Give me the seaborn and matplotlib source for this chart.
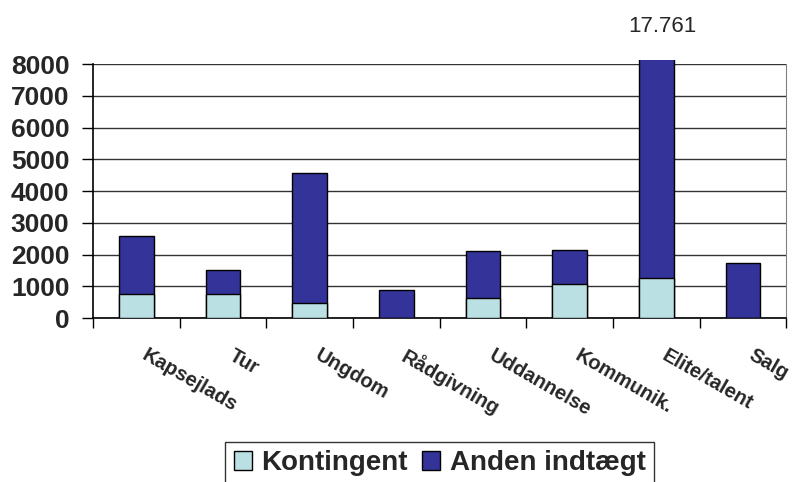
import seaborn as sns
import matplotlib.pyplot as plt
import matplotlib.transforms as mtransforms
from matplotlib.patches import Rectangle, Patch

# income per activity, Kontingent vs Anden indtaegt
categories = ['Kapsejlads', 'Tur', 'Ungdom', 'Rådgivning', 'Uddannelse',
              'Kommunik.', 'Elite/talent', 'Salg']
kontingent = [765, 765, 470, 0, 620, 1070, 1260, 0]
anden = [1835, 755, 4100, 890, 1500, 1090, 16501, 1740]
totals = [k + a for k, a in zip(kontingent, anden)]

light = '#BBE0E3'
dark = '#333399'

sns.set_style('white')
plt.rcParams['font.family'] = ['Liberation Sans', 'DejaVu Sans']

fig = plt.figure(figsize=(7.95, 4.82), dpi=100)
ax = fig.add_axes([0.117, 0.340, 0.872, 0.527])

# total first (dark), then kontingent over it (light) -> stacked look
sns.barplot(x=categories, y=totals, color=dark, width=0.4, saturation=1,
            edgecolor='black', linewidth=1, ax=ax, zorder=3)
sns.barplot(x=categories, y=kontingent, color=light, width=0.4, saturation=1,
            edgecolor='black', linewidth=1, ax=ax, zorder=4)

ax.set_ylim(0, 8000)
ax.set_xlim(-0.5, 7.5)
ax.set_yticks(range(0, 8001, 1000))
ax.yaxis.grid(True, color='#333333', linewidth=1)
ax.set_axisbelow(True)

# let the clipped Elite bar poke a bit above the top
clip = Rectangle((0, 0), 1, 1.016, transform=ax.transAxes)
for p in ax.patches:
    p.set_clip_path(clip)

for s in ['left', 'bottom']:
    ax.spines[s].set_color('black')
    ax.spines[s].set_linewidth(1.2)
ax.spines['top'].set_visible(False)
ax.spines['right'].set_color('#808080')

ax.tick_params(axis='y', which='major', left=True, length=8, width=1,
               color='black', labelsize=19, pad=9)
for t in ax.get_yticklabels():
    t.set_fontweight('bold')

ax.set_xticks(range(len(categories)))
ax.set_xticklabels(categories, rotation=-30, ha='left', rotation_mode='anchor',
                   fontsize=14.5, fontweight='bold')
ax.tick_params(axis='x', which='major', length=0, pad=20)
shift = mtransforms.ScaledTranslation(0.12, 0, fig.dpi_scale_trans)
for t in ax.get_xticklabels():
    t.set_transform(t.get_transform() + shift)
ax.set_xticks([i - 0.5 for i in range(len(categories) + 1)], minor=True)
ax.tick_params(axis='x', which='minor', bottom=True, length=7, width=1,
               color='black')
ax.set_xlabel('')
ax.set_ylabel('')

ax.text(6.07, 1.15, '17.761', transform=ax.get_xaxis_transform(),
        ha='center', va='center', fontsize=16)

handles = [Patch(facecolor=light, edgecolor='black', label='Kontingent'),
           Patch(facecolor=dark, edgecolor='black', label='Anden indtægt')]
leg = fig.legend(handles=handles, loc='upper center', bbox_to_anchor=(0.553, 0.083),
                 ncol=2, frameon=True, fancybox=False, edgecolor='black',
                 prop={'weight': 'bold', 'size': 20}, handlelength=0.65,
                 handleheight=0.65, handletextpad=0.35, columnspacing=0.5,
                 borderpad=0.3, borderaxespad=0)
leg.get_frame().set_linewidth(1)

fig.savefig('out.png', dpi=100)
